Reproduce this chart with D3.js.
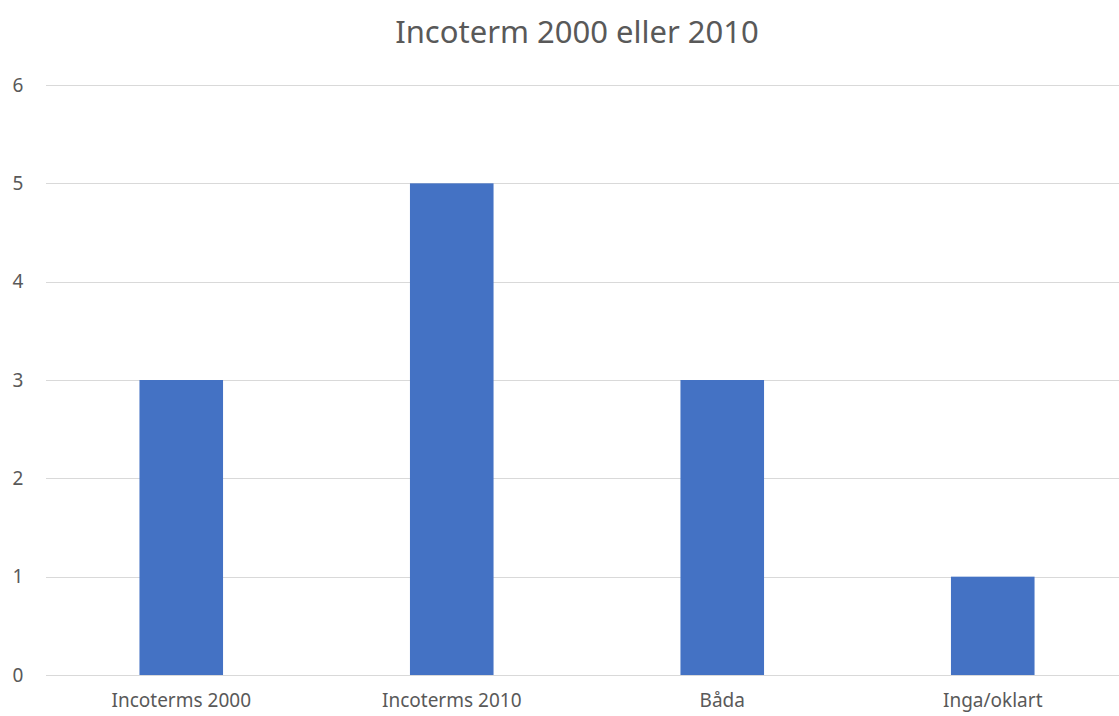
<!DOCTYPE html>
<html>
<head>
<meta charset="utf-8">
<script src="https://cdn.jsdelivr.net/npm/d3@7/dist/d3.min.js"></script>
<style>
  html, body { margin: 0; padding: 0; background: #fff; }
  svg { display: block; font-family: "Noto Sans", "Open Sans", sans-serif; }
</style>
</head>
<body>
<svg id="chart" width="1119" height="716"></svg>
<script>
// ── Data ──────────────────────────────────────────────────────────────────────
const categories = ['Incoterms 2000', 'Incoterms 2010', 'Båda', 'Inga/oklart'];
const values = [3, 5, 3, 1];
const yTicks = [0, 1, 2, 3, 4, 5, 6];
const title = 'Incoterm 2000 eller 2010';

// ── Layout ────────────────────────────────────────────────────────────────────
const svg = d3.select('#chart');
const plot = { left: 46, right: 1128, top: 85, bottom: 675 };

const x = d3.scaleBand().domain(categories).range([plot.left, plot.right]).padding(0);
const y = d3.scaleLinear().domain([0, 6]).range([plot.bottom, plot.top]);
const barW = x.bandwidth() * 0.309;

// Title
svg.append('text')
  .attr('x', 577).attr('y', 43)
  .attr('text-anchor', 'middle')
  .attr('font-size', 31)
  .attr('fill', '#595959')
  .text(title);

// Gridlines
svg.append('g')
  .selectAll('line')
  .data(yTicks)
  .join('line')
  .attr('x1', plot.left).attr('x2', 1119)
  .attr('y1', d => Math.round(y(d)) + 0.5).attr('y2', d => Math.round(y(d)) + 0.5)
  .attr('stroke', '#d9d9d9')
  .attr('stroke-width', 1);

// Y tick labels
svg.append('g')
  .selectAll('text')
  .data(yTicks)
  .join('text')
  .attr('x', 18).attr('y', d => y(d))
  .attr('dy', '0.35em')
  .attr('text-anchor', 'middle')
  .attr('font-size', 19)
  .attr('fill', '#595959')
  .text(d => d);

// Bars
svg.append('g')
  .selectAll('rect')
  .data(values)
  .join('rect')
  .attr('x', (d, i) => x(categories[i]) + x.bandwidth() / 2 - barW / 2)
  .attr('width', barW)
  .attr('y', d => y(d))
  .attr('height', d => y(0) - y(d))
  .attr('fill', '#4472c4');

// X labels (kept clear of the bottom edge)
svg.append('g')
  .selectAll('text')
  .data(categories)
  .join('text')
  .attr('x', d => x(d) + x.bandwidth() / 2)
  .attr('y', 707)
  .attr('text-anchor', 'middle')
  .attr('font-size', 19)
  .attr('fill', '#595959')
  .text(d => d);
</script>
</body>
</html>
